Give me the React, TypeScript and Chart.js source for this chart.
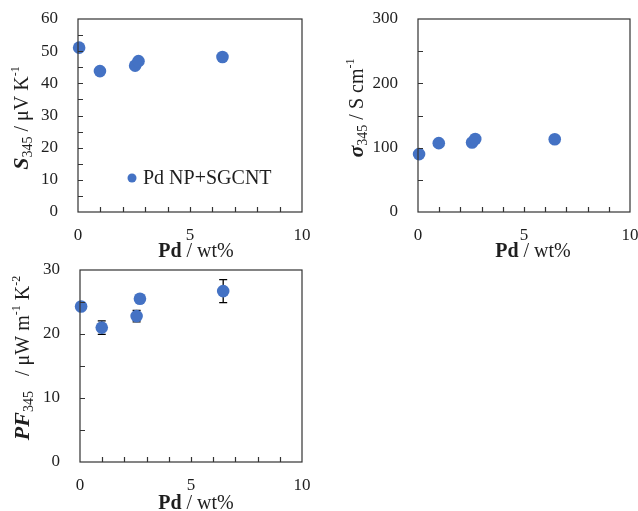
import React, { useEffect, useRef } from 'react';
import { Chart, registerables } from 'chart.js';

Chart.register(...registerables);

// ---- data ----
const pdWt = [0.05, 0.98, 2.55, 2.7, 6.45];
const seebeck = [51.1, 43.8, 45.5, 46.9, 48.2];
const sigma = [90, 107, 108, 113.5, 113];
const powerFactor = [24.3, 21.0, 22.8, 25.5, 26.7];
const powerFactorErr = [0, 1.05, 0.9, 0, 1.8];
const legendLabel = 'Pd NP+SGCNT';
const xTickStep = 5;
const xMinorStep = 1;

const SERIF = '"Liberation Serif", "Times New Roman", serif';
const BLUE = '#4472C4';
const AXIS = '#333333';
const TEXT = '#1e1e1e';

type Seg = { t: string; size: number; style?: string; dy?: number };

function drawRich(ctx: CanvasRenderingContext2D, segs: Seg[], cx: number, cy: number, rotate: boolean) {
  ctx.save();
  ctx.translate(cx, cy);
  if (rotate) ctx.rotate(-Math.PI / 2);
  let total = 0;
  const widths = segs.map((s) => {
    ctx.font = `${s.style || ''} ${s.size}px ${SERIF}`;
    const w = ctx.measureText(s.t).width;
    total += w;
    return w;
  });
  let x = -total / 2;
  ctx.textBaseline = 'alphabetic';
  ctx.textAlign = 'left';
  ctx.fillStyle = TEXT;
  segs.forEach((s, i) => {
    ctx.font = `${s.style || ''} ${s.size}px ${SERIF}`;
    ctx.fillText(s.t, x, s.dy || 0);
    x += widths[i];
  });
  ctx.restore();
}

type PanelSpec = {
  values: number[];
  errors?: number[];
  yMax: number;
  yStep: number;
  yMinor: number;
  canvasW: number;
  canvasH: number;
  area: { left: number; top: number; right: number; bottom: number };
  yTitle: Seg[];
  yTitlePos: [number, number];
  xTitlePos: [number, number];
  legend?: { x: number; y: number };
};

const xTitleSegs: Seg[] = [
  { t: 'Pd', size: 20, style: 'bold' },
  { t: ' / wt%', size: 20 },
];

function makeConfig(p: PanelSpec): any {
  const decor = {
    id: 'decor',
    beforeDatasetsDraw(chart: any) {
      if (!p.errors) return;
      const ctx = chart.ctx as CanvasRenderingContext2D;
      const xs = chart.scales.x;
      const ys = chart.scales.y;
      ctx.save();
      ctx.strokeStyle = '#000';
      ctx.lineWidth = 1.3;
      p.values.forEach((v, i) => {
        const e = p.errors![i];
        if (!e) return;
        const px = xs.getPixelForValue(pdWt[i]);
        const y1 = ys.getPixelForValue(v + e);
        const y2 = ys.getPixelForValue(v - e);
        ctx.beginPath();
        ctx.moveTo(px, y1);
        ctx.lineTo(px, y2);
        ctx.moveTo(px - 4, y1);
        ctx.lineTo(px + 4, y1);
        ctx.moveTo(px - 4, y2);
        ctx.lineTo(px + 4, y2);
        ctx.stroke();
      });
      ctx.restore();
    },
    afterDraw(chart: any) {
      const ctx = chart.ctx as CanvasRenderingContext2D;
      const a = chart.chartArea;
      const xs = chart.scales.x;
      const ys = chart.scales.y;
      ctx.save();
      ctx.strokeStyle = AXIS;
      ctx.lineWidth = 1.2;
      ctx.strokeRect(a.left, a.top, a.right - a.left, a.bottom - a.top);
      ctx.beginPath();
      for (let v = xMinorStep; v < 10; v += xMinorStep) {
        const px = Math.round(xs.getPixelForValue(v)) + 0.5;
        ctx.moveTo(px, a.bottom);
        ctx.lineTo(px, a.bottom - 5);
      }
      for (let v = p.yMinor; v < p.yMax; v += p.yMinor) {
        const py = Math.round(ys.getPixelForValue(v)) + 0.5;
        ctx.moveTo(a.left, py);
        ctx.lineTo(a.left + 5, py);
      }
      ctx.stroke();
      ctx.restore();

      drawRich(ctx, p.yTitle, p.yTitlePos[0], p.yTitlePos[1], true);
      drawRich(ctx, xTitleSegs, p.xTitlePos[0], p.xTitlePos[1], false);

      if (p.legend) {
        ctx.save();
        ctx.fillStyle = BLUE;
        ctx.beginPath();
        ctx.arc(p.legend.x, p.legend.y, 4.5, 0, Math.PI * 2);
        ctx.fill();
        ctx.fillStyle = TEXT;
        ctx.font = `20px ${SERIF}`;
        ctx.textBaseline = 'middle';
        ctx.textAlign = 'left';
        ctx.fillText(legendLabel, p.legend.x + 11, p.legend.y + 1);
        ctx.restore();
      }
    },
  };

  return {
    type: 'scatter',
    data: {
      datasets: [
        {
          data: pdWt.map((x, i) => ({ x, y: p.values[i] })),
          pointRadius: 6.3,
          pointBackgroundColor: BLUE,
          pointBorderWidth: 0,
          pointHoverRadius: 6.3,
          clip: false,
        },
      ],
    },
    options: {
      responsive: false,
      animation: false,
      events: [],
      layout: {
        padding: {
          left: 0,
          top: p.area.top,
          right: p.canvasW - p.area.right,
          bottom: 0,
        },
      },
      plugins: { legend: { display: false }, tooltip: { enabled: false } },
      scales: {
        x: {
          type: 'linear',
          min: 0,
          max: 10,
          grid: { display: false, drawTicks: false },
          border: { display: false },
          ticks: {
            stepSize: xTickStep,
            padding: 13,
            color: TEXT,
            font: { family: SERIF, size: 17 },
            maxRotation: 0,
          },
          afterFit(scale: any) {
            scale.height = p.canvasH - p.area.bottom;
            scale.paddingLeft = 0;
            scale.paddingRight = 0;
          },
        },
        y: {
          type: 'linear',
          min: 0,
          max: p.yMax,
          grid: { display: false, drawTicks: false },
          border: { display: false },
          ticks: {
            stepSize: p.yStep,
            padding: 20,
            color: TEXT,
            font: { family: SERIF, size: 17 },
          },
          afterFit(scale: any) {
            scale.width = p.area.left;
            scale.paddingTop = 0;
            scale.paddingBottom = 0;
          },
        },
      },
    },
    plugins: [decor],
  };
}

const panels: { left: number; top: number; spec: PanelSpec }[] = [
  {
    left: 0,
    top: 0,
    spec: {
      values: seebeck,
      yMax: 60,
      yStep: 10,
      yMinor: 5,
      canvasW: 320,
      canvasH: 262,
      area: { left: 78, top: 19, right: 302, bottom: 212 },
      yTitle: [
        { t: 'S', size: 22, style: 'italic bold' },
        { t: '345', size: 14, dy: 4 },
        { t: ' / μV K', size: 20 },
        { t: '-1', size: 12, dy: -9 },
      ],
      yTitlePos: [28, 118],
      xTitlePos: [196, 257],
      legend: { x: 132, y: 178 },
    },
  },
  {
    left: 320,
    top: 0,
    spec: {
      values: sigma,
      yMax: 300,
      yStep: 100,
      yMinor: 50,
      canvasW: 318,
      canvasH: 262,
      area: { left: 98, top: 19, right: 310, bottom: 212 },
      yTitle: [
        { t: 'σ', size: 22, style: 'italic bold' },
        { t: '345', size: 14, dy: 4 },
        { t: ' / S cm', size: 20 },
        { t: '-1', size: 12, dy: -9 },
      ],
      yTitlePos: [43, 108],
      xTitlePos: [213, 257],
    },
  },
  {
    left: 0,
    top: 250,
    spec: {
      values: powerFactor,
      errors: powerFactorErr,
      yMax: 30,
      yStep: 10,
      yMinor: 5,
      canvasW: 320,
      canvasH: 261,
      area: { left: 80, top: 20, right: 302, bottom: 212 },
      yTitle: [
        { t: 'PF', size: 22, style: 'italic bold' },
        { t: '345', size: 14, dy: 4 },
        { t: '   / μW m', size: 20 },
        { t: '-1', size: 12, dy: -9 },
        { t: ' K', size: 20 },
        { t: '-2', size: 12, dy: -9 },
      ],
      yTitlePos: [29, 108],
      xTitlePos: [196, 259],
    },
  },
];

function Panel({ left, top, spec }: { left: number; top: number; spec: PanelSpec }) {
  const ref = useRef<HTMLCanvasElement | null>(null);
  useEffect(() => {
    if (!ref.current) return;
    const chart = new Chart(ref.current, makeConfig(spec));
    return () => chart.destroy();
  }, []);
  return (
    <canvas
      ref={ref}
      width={spec.canvasW}
      height={spec.canvasH}
      style={{ position: 'absolute', left, top, width: spec.canvasW, height: spec.canvasH, display: 'block' }}
    />
  );
}

export default function App() {
  return (
    <div style={{ position: 'absolute', left: 0, top: 0, width: 638, height: 511, background: '#fff', overflow: 'hidden' }}>
      {panels.map((p, i) => (
        <Panel key={i} left={p.left} top={p.top} spec={p.spec} />
      ))}
    </div>
  );
}
